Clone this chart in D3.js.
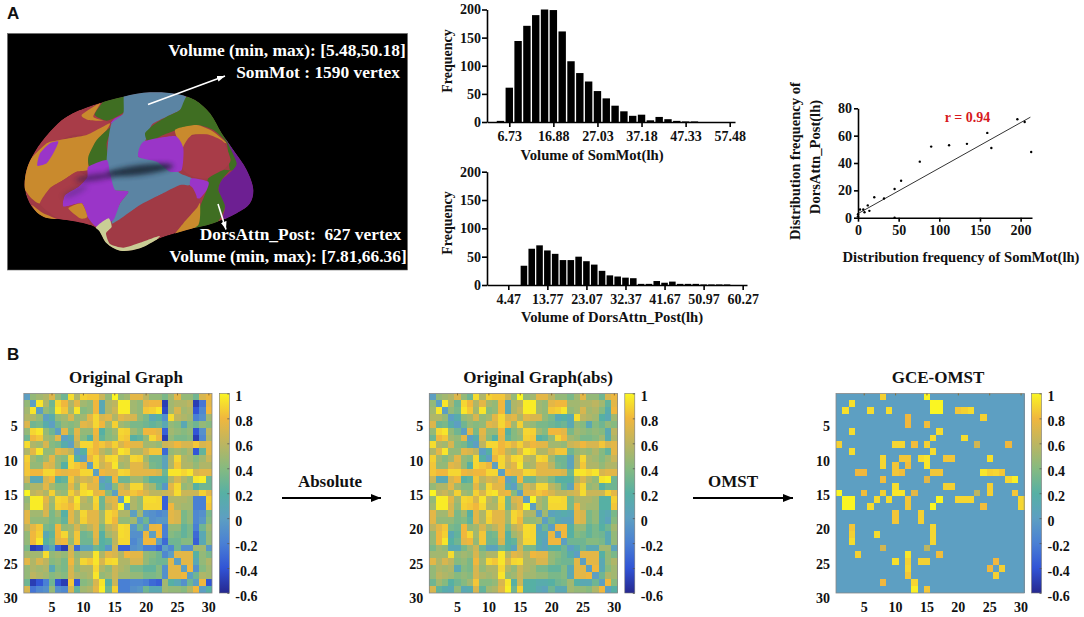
<!DOCTYPE html>
<html>
<head>
<meta charset="utf-8">
<script src="https://cdnjs.cloudflare.com/ajax/libs/d3/7.8.5/d3.min.js"></script>
<style>
  html, body { margin: 0; padding: 0; background: #fff; }
  svg { display: block; }
  text { font-family: "Liberation Serif", serif; font-weight: bold; fill: #111; }
  .panel { font-family: "Liberation Sans", sans-serif; font-size: 17px; }
  .tick text { font-size: 14px; }
  .axis path, .axis line { stroke: #000; stroke-width: 1.6; }
  .hm line { stroke: #8a6a30; stroke-width: 1; }
  .cb line { stroke: #555; stroke-width: .8; }
</style>
</head>
<body>
<svg id="fig" width="1084" height="617"></svg>
<script>
// histogram of SomMot(lh)
const somBins = [4.70, 6.73, 8.76, 10.79, 12.82, 14.85, 16.88, 18.91, 20.94, 22.97, 25.00, 27.03, 29.06, 31.09, 33.12, 35.15, 37.18, 39.21, 41.24, 43.27, 45.30, 47.33, 49.36];
const somFreq = [2, 61, 144, 171, 190, 200, 199, 161, 108, 87, 72, 55, 42, 29, 19, 11, 13, 3, 9, 5, 2, 1, 1];
const somTicks = [6.73, 16.88, 27.03, 37.18, 47.33, 57.48];

// histogram of DorsAttn_Post(lh)
const dorsBins = [8.19, 10.05, 11.91, 13.77, 15.63, 17.49, 19.35, 21.21, 23.07, 24.93, 26.79, 28.65, 30.51, 32.37, 34.23, 36.09, 37.95, 39.81, 41.67, 43.53, 45.39, 47.25, 49.11, 50.97, 52.83, 54.69, 56.55];
const dorsFreq = [34, 64, 70, 61, 55, 44, 44, 50, 42, 36, 25, 17, 15, 13, 12, 2, 2, 7, 4, 6, 2, 2, 2, 1, 1, 1, 1];
const dorsTicks = [4.47, 13.77, 23.07, 32.37, 41.67, 50.97, 60.27];

// scatter of the two distributions
const scatterX = [0, 0, 2.5, 6.5, 8, 12, 14, 20, 32, 45, 45, 53, 76, 90, 112, 134, 159, 164, 196, 205, 213];
const scatterY = [1, 2.5, 6, 6, 4, 9, 5, 15, 14, 21, 0, 27, 41, 52, 53, 54, 62, 51, 72, 70, 48];
const fitX = [0, 212];
const fitY = [3, 73.5];

// upper triangle of the correlation matrix, row by row, diagonal left out
const graphUpper = [
  [.45,.5,.55,.72,.45,.3,.92,.55,.88,.85,.85,.65,.45,1,.45,.5,.75,.75,.6,.45,.45,.35,.5,.75,.45,.45,.3,.7,.78],
  [.95,.55,.3,.9,.8,.55,.75,.5,.45,.8,.1,.55,.6,.97,.97,.5,.45,.75,.8,.8,-.5,.5,.55,.55,.6,-.5,-.25,.75],
  [.45,.35,.95,.85,.5,.95,.4,.45,.8,.1,.55,.65,.97,.97,.5,.45,.85,.88,.95,-.45,.5,.7,.5,.55,-.4,-.15,.8],
  [.15,.45,.5,.7,.45,.5,.75,.9,.7,.75,.55,.75,.7,.7,.45,.35,.1,.2,-.1,.92,.6,.55,.5,-.2,-.1,.5],
  [.3,.45,.4,.45,.75,.7,.9,.8,.5,.88,.5,.45,.35,.35,.3,.25,.3,.1,.45,.4,.1,.4,.3,.45,.4],
  [.75,.35,.75,.45,.45,.8,.2,.4,.5,.9,.88,.5,.4,.8,.8,.75,-.35,.5,.45,.4,.45,-.4,-.1,.6],
  [.15,.7,.4,.2,.75,.25,.4,.45,.88,.85,.2,.25,.45,.9,.8,-.5,.45,.35,.35,.4,-.5,-.15,.55],
  [.6,.9,.9,.8,.85,.75,.88,.7,.8,.75,.75,.5,.5,.45,.65,.7,.8,.7,.7,.85,.7,.75],
  [.2,.85,.8,.6,.5,.7,.95,.9,.55,.55,.7,.85,.85,-.3,.45,.5,.45,.55,-.4,.25,.75],
  [.78,.9,.7,.9,.92,.6,.55,.9,.88,.5,.3,.3,.05,.55,.9,.55,.5,.4,.5,.65],
  [.9,.65,.75,.95,.5,.55,.75,.75,.6,.35,.3,.05,.55,.85,.55,.55,.45,.55,.55],
  [.8,.75,.75,.9,.88,.75,.75,.75,.75,.7,.3,.95,.95,.9,.95,.7,.75,.75],
  [.15,.8,.3,.3,.5,.5,.35,.2,.2,.2,.55,.7,.55,.45,.95,.98,.3],
  [.4,.7,.6,.9,.9,.6,.5,.25,-.05,.75,.9,.45,.5,.2,.3,.3],
  [.75,.75,.85,.8,.7,.6,.6,.65,.7,.92,.65,.65,.65,.88,.75],
  [1,.55,.45,.92,.92,.9,-.35,.55,.55,.55,.5,-.2,-.2,.88],
  [.55,.45,.9,.9,.9,-.35,.8,.55,.5,.5,-.2,-.2,.85],
  [.5,-.05,-.1,-.15,-.1,.75,.7,.35,.45,-.15,-.1,.35],
  [.3,-.1,-.05,-.05,.75,.7,.35,.45,-.15,-.05,.4],
  [.78,.8,-.2,.45,.45,.25,.35,-.2,.3,.5],
  [.8,-.2,.4,.35,.25,.35,-.3,.1,.45],
  [-.3,.3,.3,.4,.4,-.35,.1,.45],
  [-.15,.3,-.1,-.1,.5,.5,-.05],
  [.75,.75,.75,.2,.45,.35],
  [.75,.75,.1,.45,.55],
  [.8,-.1,.4,.5],
  [.3,.55,.5],
  [.8,-.4],
  [.2]
];

// edges kept by OMST: row, column, weight
const omstEdges = [
  [1,8,.88],[1,15,1],[2,3,.93],[2,16,1],[2,17,1],[3,6,.92],[3,9,.92],[3,16,1],[3,17,1],[3,20,.85],[3,21,.88],[3,22,.92],
  [4,12,.8],[4,24,.88],[5,12,.8],[5,15,.82],[6,17,.92],[7,16,.92],[7,21,.92],[8,10,.9],[8,11,.9],[8,13,.82],[8,15,.88],[8,23,.68],[8,28,.8],
  [9,16,.92],[10,11,.85],[10,12,.85],[10,14,.92],[10,15,.95],[10,18,.85],[10,19,.85],[10,25,.93],[11,15,.95],[11,12,.82],
  [12,16,.85],[12,17,.85],[12,24,.95],[12,25,.88],[12,26,.9],[12,27,.85],[13,15,.75],[13,28,.9],[13,29,.98],
  [14,18,.88],[14,19,.88],[14,25,.88],[15,23,.6],[15,25,.88],[15,29,.85],[16,17,1],[16,20,.9],[16,21,.9],[16,22,.9],[16,30,.9],
  [17,24,.82],[17,30,.9],[25,26,.8],[26,27,.88]
];

const heatTicks = [5, 10, 15, 20, 25, 30];
const barTicks = [1, .8, .6, .4, .2, 0, -.2, -.4, -.6];

// wrapped text of the surface picture
const brainNotes = ["Volume (min, max): [5.48,50.18]", "SomMot : 1590 vertex", "DorsAttn_Post:  627 vertex", "Volume (min, max): [7.81,66.36]"];

// surface outline and parcels (3x pixels)
const brainOutline = [[75,570],[80,510],[105,455],[150,395],[200,350],[280,315],[370,290],[450,277],[530,282],[585,300],[630,340],[665,400],[700,450],[740,510],[760,570],[750,610],[710,640],[640,670],[560,690],[480,715],[420,745],[360,752],[320,730],[295,690],[270,675],[200,660],[130,650],[95,620]];
const brainParcels = [
  ["#a83c48", [[60,600],[60,440],[150,380],[240,330],[290,350],[330,370],[300,390],[260,405],[220,405],[180,420],[140,430],[100,480]]],
  ["#c98a2d", [[180,420],[260,405],[300,385],[330,370],[320,390],[285,430],[265,480],[265,510],[230,515],[190,540],[150,565],[120,610],[90,590],[60,540],[90,480],[140,430]]],
  ["#9a35c8", [[175,425],[150,430],[120,460],[112,497],[140,490],[160,460]]],
  ["#c98a2d", [[245,345],[300,310],[280,350],[310,362],[265,360]]],
  ["#3f6e22", [[285,340],[320,295],[375,290],[378,330],[350,350],[320,362],[290,350]]],
  ["#9a35c8", [[345,355],[368,346],[355,368],[332,370]]],
  ["#3f6e22", [[335,380],[320,430],[320,480],[270,500],[265,470],[290,420]]],
  ["#5b84a3", [[375,270],[450,260],[530,270],[560,295],[540,330],[490,355],[455,375],[435,425],[415,470],[490,480],[540,520],[575,535],[570,555],[480,585],[420,615],[370,650],[335,670],[360,610],[385,575],[340,570],[320,520],[320,480],[325,420],[335,370],[370,340]]],
  ["#3f6e22", [[560,290],[610,300],[660,380],[720,490],[690,510],[680,430],[640,390],[590,375],[530,390],[490,405],[445,425],[435,400],[460,375],[500,350],[540,330]]],
  ["#c98a2d", [[525,390],[590,375],[640,395],[680,430],[620,405],[575,405],[550,445]]],
  ["#a83c48", [[570,410],[620,403],[670,425],[692,480],[670,510],[625,535],[580,530],[550,510],[545,470],[550,440]]],
  ["#9a35c8", [[430,425],[525,408],[550,445],[545,510],[510,515],[470,485],[415,470]]],
  ["#6d1f92", [[660,380],[770,510],[780,610],[710,660],[670,655],[675,620],[655,570],[665,540],[710,490]]],
  ["#3f6e22", [[710,490],[665,540],[655,570],[675,620],[650,670],[600,690],[580,680],[600,620],[620,570],[625,535],[670,510],[690,510]]],
  ["#9a35c8", [[575,535],[625,545],[620,570],[600,595],[585,590],[570,555]]],
  ["#9a35c8", [[265,500],[320,480],[330,520],[345,570],[385,575],[360,610],[340,660],[290,680],[262,650],[245,610],[190,620],[195,585],[235,560],[262,530]]],
  ["#a83c48", [[120,610],[150,565],[190,540],[230,515],[262,530],[235,560],[195,585],[190,620],[245,610],[262,650],[270,690],[200,670],[150,640]]],
  ["#c98a2d", [[205,625],[245,610],[262,650],[240,655]]],
  ["#c98a2d", [[95,615],[130,640],[175,660],[130,660]]],
  ["#a03a45", [[340,680],[400,630],[470,590],[540,555],[575,560],[590,590],[585,620],[550,670],[490,700],[420,725],[370,740],[330,730],[318,700]]],
  ["#c98a2d", [[590,625],[600,610],[595,675],[520,712],[550,670]]],
  ["#c9cd95", [[285,690],[325,655],[335,680],[318,700],[330,732],[370,743],[420,728],[480,708],[420,760],[340,765]]]
];
const brainShadows = [
  ["#1f2c3a", .9, 420, 510, 100, 15, -7],
  ["#3a1a52", .7, 285, 532, 60, 10, -8],
  ["#3a2a55", .35, 225, 575, 40, 10, -25]
];

const svg = d3.select("#fig");
const defs = svg.append("defs");

// ---- panel labels
svg.append("text").attr("class", "panel").attr("x", 7).attr("y", 19).text("A");
svg.append("text").attr("class", "panel").attr("x", 7).attr("y", 360).text("B");

// ---- surface picture
const brain = svg.append("g");
brain.append("rect")
  .attr("x", 7.5).attr("y", 33.5).attr("width", 400).attr("height", 236.5)
  .attr("fill", "#000").attr("stroke", "#666").attr("stroke-width", .6);

const third = d => d.map(p => [p[0] / 3, p[1] / 3]);
const outlinePath = d3.line().curve(d3.curveCatmullRomClosed)(third(brainOutline));
defs.append("clipPath").attr("id", "brainClip").append("path").attr("d", outlinePath);
defs.append("filter").attr("id", "soft").attr("x", "-40%").attr("y", "-80%").attr("width", "180%").attr("height", "260%")
  .append("feGaussianBlur").attr("stdDeviation", 2.6);
defs.append("filter").attr("id", "jpeg").attr("x", "-2%").attr("y", "-2%").attr("width", "104%").attr("height", "104%")
  .append("feGaussianBlur").attr("stdDeviation", .4);

const cortex = brain.append("g").attr("clip-path", "url(#brainClip)");
cortex.append("path").attr("d", outlinePath).attr("fill", "#a03a45");
cortex.selectAll("path.parcel")
  .data(brainParcels)
  .enter()
  .append("path")
    .attr("class", "parcel")
    .attr("d", d => d3.line().curve(d3.curveCardinalClosed.tension(.4))(third(d[1])))
    .attr("fill", d => d[0]);
cortex.selectAll("ellipse")
  .data(brainShadows)
  .enter()
  .append("ellipse")
    .attr("transform", d => `translate(${ d[2] / 3 },${ d[3] / 3 }) rotate(${ d[6] })`)
    .attr("rx", d => d[4] / 3)
    .attr("ry", d => d[5] / 3)
    .attr("fill", d => d[0])
    .attr("opacity", d => d[1])
    .attr("filter", "url(#soft)");

[[287, 55.5], [318, 77.5], [300.5, 239.5], [288, 261.5]].forEach((p, i) => {
  brain.append("text")
    .attr("x", p[0]).attr("y", p[1])
    .attr("text-anchor", "middle")
    .attr("font-size", 17.4)
    .style("fill", "#fff")
    .style("white-space", "pre")
    .text(brainNotes[i]);
});

function addMarker(id, color, w, h) {
  defs.append("marker").attr("id", id)
    .attr("viewBox", `0 0 ${ w } ${ h }`).attr("refX", w).attr("refY", h / 2)
    .attr("markerWidth", w).attr("markerHeight", h).attr("markerUnits", "userSpaceOnUse")
    .attr("orient", "auto")
    .append("path").attr("d", `M0,0L${ w },${ h / 2 }L0,${ h }z`).attr("fill", color);
}
addMarker("headW", "#fff", 8, 6);
addMarker("headK", "#000", 10, 8);

brain.append("line").attr("x1", 148).attr("y1", 104.5).attr("x2", 225).attr("y2", 76)
  .attr("stroke", "#fff").attr("stroke-width", 1.6).attr("marker-end", "url(#headW)");
brain.append("line").attr("x1", 218).attr("y1", 204).attr("x2", 226).attr("y2", 229.5)
  .attr("stroke", "#fff").attr("stroke-width", 1.6).attr("marker-end", "url(#headW)");

// ---- histograms
function histogram(o) {
  const g = svg.append("g");
  const x = d3.scaleLinear().domain(o.xDomain).range([o.left, o.right]);
  const y = d3.scaleLinear().domain([0, 200]).range([o.base, o.top]);
  const bw = Math.abs(x(o.bins[1]) - x(o.bins[0])) * .84;

  g.selectAll("rect")
    .data(o.bins)
    .enter()
    .append("rect")
      .attr("x", d => x(d) - bw / 2)
      .attr("width", bw)
      .attr("y", (d, i) => y(o.freq[i]))
      .attr("height", (d, i) => y(0) - y(o.freq[i]))
      .attr("fill", "#000");

  g.append("g").attr("class", "axis")
    .attr("transform", `translate(0,${ o.base })`)
    .call(d3.axisBottom(x).tickValues(o.ticks).tickFormat(d3.format(".2f")).tickSize(5).tickSizeOuter(0).tickPadding(4));
  g.append("g").attr("class", "axis")
    .attr("transform", `translate(${ o.left },0)`)
    .call(d3.axisLeft(y).tickValues([0, 50, 100, 150, 200]).tickSize(5).tickSizeOuter(0).tickPadding(1));

  g.append("text")
    .attr("transform", `translate(452,${ o.freqY }) rotate(-90)`)
    .attr("text-anchor", "middle").attr("font-size", 14).text("Frequency");
  g.append("text")
    .attr("x", o.labelX).attr("y", o.labelY)
    .attr("text-anchor", "middle").attr("font-size", 14.7).text(o.label);
}

histogram({
  bins: somBins, freq: somFreq, ticks: somTicks,
  xDomain: [1.6, 58.7], left: 487, right: 735, base: 122, top: 9.5,
  freqY: 61, labelX: 592, labelY: 160, label: "Volume of SomMot(lh)"
});
histogram({
  bins: dorsBins, freq: dorsFreq, ticks: dorsTicks,
  xDomain: [-0.6, 61.3], left: 487, right: 747, base: 285, top: 171.7,
  freqY: 223, labelX: 612, labelY: 322, label: "Volume of DorsAttn_Post(lh)"
});

// ---- scatter
const sc = svg.append("g");
const sx = d3.scaleLinear().domain([0, 214]).range([858, 1032]);
const sy = d3.scaleLinear().domain([0, 80]).range([217.7, 108.3]);

sc.append("g").attr("class", "axis").attr("transform", "translate(0,217.7)")
  .call(d3.axisBottom(sx).tickValues([0, 50, 100, 150, 200]).tickSize(4).tickSizeOuter(0).tickPadding(3));
sc.append("g").attr("class", "axis").attr("transform", "translate(858,0)")
  .call(d3.axisLeft(sy).tickValues([0, 20, 40, 60, 80]).tickSize(4).tickSizeOuter(0).tickPadding(2));
sc.append("line")
  .attr("x1", sx(fitX[0])).attr("y1", sy(fitY[0]))
  .attr("x2", sx(fitX[1])).attr("y2", sy(fitY[1]))
  .attr("stroke", "#333").attr("stroke-width", 1);
sc.selectAll("circle")
  .data(scatterX)
  .enter()
  .append("circle")
    .attr("cx", d => sx(d))
    .attr("cy", (d, i) => sy(scatterY[i]))
    .attr("r", 1.2)
    .attr("fill", "#000");
sc.append("text").attr("x", 967.5).attr("y", 122).attr("text-anchor", "middle")
  .attr("font-size", 14).style("fill", "#d7191c").text("r = 0.94");
sc.append("text").attr("x", 961).attr("y", 262).attr("text-anchor", "middle")
  .attr("font-size", 14.6).text("Distribution frequency of SomMot(lh)");
sc.append("text").attr("transform", "translate(800,161) rotate(-90)").attr("text-anchor", "middle")
  .attr("font-size", 14.6).text("Distribution frequency of");
sc.append("text").attr("transform", "translate(820,157) rotate(-90)").attr("text-anchor", "middle")
  .attr("font-size", 14.6).text("DorsAttn_Post(lh)");

// ---- heat maps
const ids = d3.range(1, 31);
const graph = ids.map(() => ids.map(() => 0));
graphUpper.forEach((vals, i) => vals.forEach((v, k) => {
  graph[i][i + k + 1] = v;
  graph[i + k + 1][i] = v;
}));
const graphAbs = graph.map(r => r.map(Math.abs));
const omst = ids.map(() => ids.map(() => 0));
omstEdges.forEach(e => {
  omst[e[0] - 1][e[1] - 1] = e[2];
  omst[e[1] - 1][e[0] - 1] = e[2];
});

const colorStops = [-.6, -.4, -.2, 0, .2, .4, .6, .8, 1];
const colorVals = ["#26288f", "#3154d6", "#4a80d4", "#5d9fc2", "#57b0a4", "#86ba80", "#bdb560", "#f0b73e", "#faf523"];
const color = d3.scaleLinear().domain(colorStops).range(colorVals);

const gradient = defs.append("linearGradient").attr("id", "bar")
  .attr("x1", 0).attr("y1", 1).attr("x2", 0).attr("y2", 0);
colorStops.forEach((d, i) => {
  gradient.append("stop").attr("offset", (d + .6) / 1.6).attr("stop-color", colorVals[i]);
});

const hmTop = 393.4;
const hmBottom = 593;
defs.append("clipPath").attr("id", "hmClip").append("rect")
  .attr("x", 0).attr("y", hmTop).attr("width", 1084).attr("height", hmBottom - hmTop);

function heatmap(o) {
  const g = svg.append("g");
  const x = d3.scaleBand().domain(ids).range([o.left, o.left + 188.2]);
  const y = d3.scaleBand().domain(ids).range([hmTop, hmTop + 206.1]);

  const rows = g.append("g").attr("clip-path", "url(#hmClip)")
    .append("g").attr("filter", "url(#jpeg)")
    .selectAll("g")
    .data(o.values)
    .enter()
    .append("g")
      .attr("transform", (d, i) => `translate(0,${ y(i + 1) })`);
  rows.selectAll("rect")
    .data(d => d)
    .enter()
    .append("rect")
      .attr("x", (d, i) => x(i + 1))
      .attr("width", x.bandwidth() + .3)
      .attr("height", y.bandwidth() + .3)
      .attr("shape-rendering", "crispEdges")
      .attr("fill", d => color(d));

  g.append("rect")
    .attr("x", o.left).attr("y", hmTop)
    .attr("width", 188.2).attr("height", hmBottom - hmTop)
    .attr("fill", "none").attr("stroke", "#888").attr("stroke-width", .8);

  const ax = g.append("g").attr("class", "hm")
    .attr("transform", `translate(0,${ hmBottom })`)
    .call(d3.axisBottom(x).tickValues(heatTicks).tickSize(0).tickPadding(9));
  ax.select(".domain").remove();

  const ay = g.append("g").attr("class", "hm")
    .attr("transform", `translate(${ o.left },0)`)
    .call(d3.axisLeft(y).tickValues(heatTicks).tickSize(0).tickPadding(6));
  ay.select(".domain").remove();
  ay.selectAll("text").attr("dy", "0.5em");

  // little ticks on the top edge, as matlab draws them
  g.selectAll("line.top")
    .data(heatTicks)
    .enter()
    .append("line")
      .attr("class", "top")
      .attr("x1", d => x(d) + x.bandwidth() / 2)
      .attr("x2", d => x(d) + x.bandwidth() / 2)
      .attr("y1", hmTop).attr("y2", hmTop + 2)
      .attr("stroke", "#8a6a30");

  // colour bar
  const bx = o.left + 195.5;
  const by = d3.scaleLinear().domain([-.6, 1]).range([hmBottom, hmTop]);
  g.append("rect")
    .attr("x", bx).attr("y", hmTop)
    .attr("width", 10).attr("height", hmBottom - hmTop)
    .attr("fill", "url(#bar)").attr("stroke", "#777").attr("stroke-width", .6);
  const cb = g.append("g").attr("class", "cb")
    .attr("transform", `translate(${ bx + 10 },0)`)
    .call(d3.axisRight(by).tickValues(barTicks).tickSize(-2).tickPadding(6).tickFormat(d => d === 1 || d === 0 ? d : d3.format(".1f")(d).replace("\u2212", "-")));
  cb.select(".domain").remove();
  cb.selectAll("text").attr("dy", "0.5em");

  g.append("text")
    .attr("x", o.titleX).attr("y", 383)
    .attr("text-anchor", "middle").attr("font-size", 17).text(o.title);
}

heatmap({ values: graph, left: 23.8, title: "Original Graph", titleX: 126 });
heatmap({ values: graphAbs, left: 429.3, title: "Original Graph(abs)", titleX: 538 });
heatmap({ values: omst, left: 836, title: "GCE-OMST", titleX: 938 });

// ---- arrows between the maps
[["Absolute", 330, 282, 381], ["OMST", 733, 693, 793]].forEach(d => {
  svg.append("text").attr("x", d[1]).attr("y", 487).attr("text-anchor", "middle").attr("font-size", 17).text(d[0]);
  svg.append("line").attr("x1", d[2]).attr("x2", d[3]).attr("y1", 498).attr("y2", 498)
    .attr("stroke", "#000").attr("stroke-width", 1.8).attr("marker-end", "url(#headK)");
});
</script>
</body>
</html>
